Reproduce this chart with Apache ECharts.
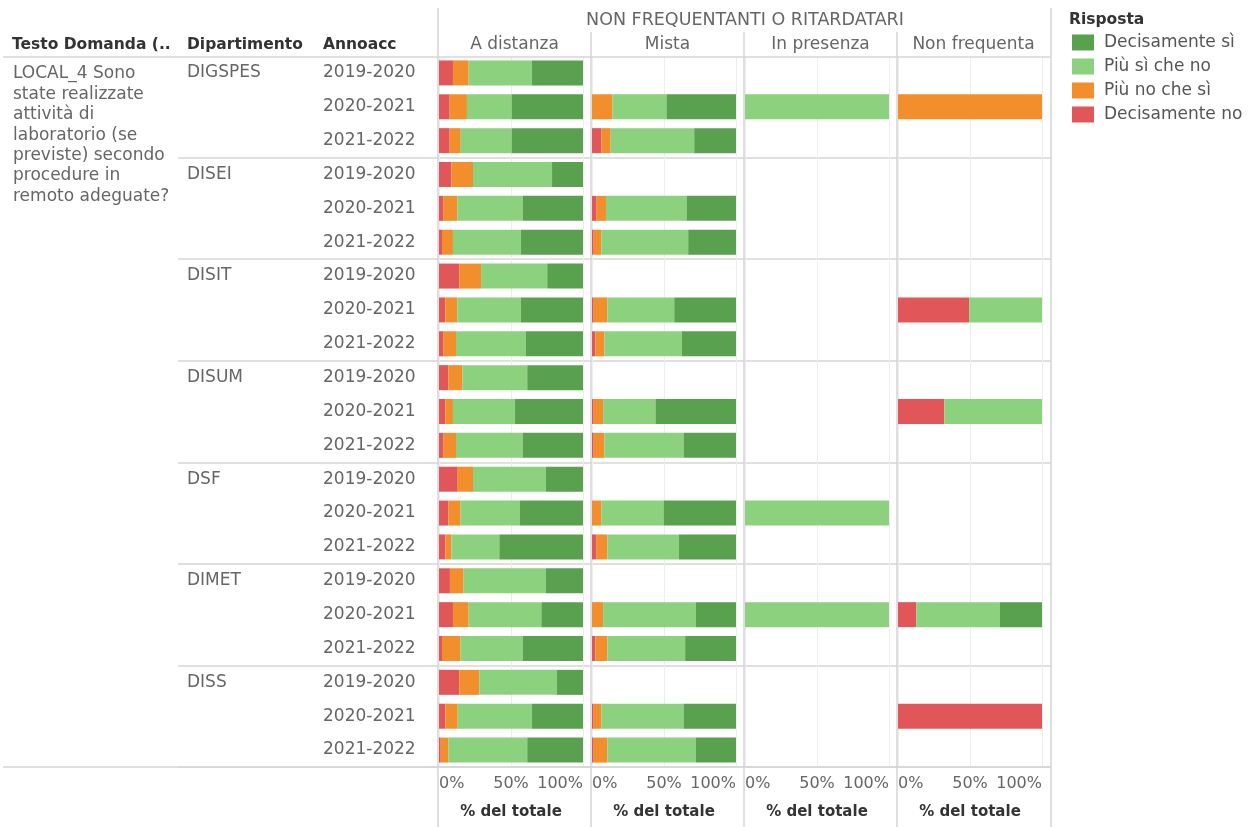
<!DOCTYPE html>
<html>
<head>
<meta charset="utf-8">
<script src="https://cdn.jsdelivr.net/npm/echarts@6/dist/echarts.min.js"></script>
<style>
  html, body { margin: 0; padding: 0; background: #fff; }
  #chart { width: 1253px; height: 827px; }
</style>
</head>
<body>
<div id="chart"></div>
<script>
// row labels
var departments = ['DIGSPES', 'DISEI', 'DISIT', 'DISUM', 'DSF', 'DIMET', 'DISS'];
var years = ['2019-2020', '2020-2021', '2021-2022'];
var panels = ['A distanza', 'Mista', 'In presenza', 'Non frequenta'];
var answers = ['Decisamente no', 'Più no che sì', 'Più sì che no', 'Decisamente sì'];
var answerColors = ['#e15759', '#f28e2b', '#8cd17d', '#59a14f'];
var question = ['LOCAL_4 Sono', 'state realizzate', 'attività di', 'laboratorio (se',
                'previste) secondo', 'procedure in', 'remoto adeguate?'];
var xTicks = [0, 50, 100];

// % del totale, one row per department/year: [no, piu no, piu si, si]
var aDistanza = [
  [9.7, 10.9, 44.0, 35.4], [7.4, 12.0, 31.1, 49.5], [7.4, 7.7, 35.4, 49.5],
  [8.6, 15.0, 54.9, 21.5], [3.2, 9.5, 45.4, 41.9], [2.1, 7.6, 47.2, 43.1],
  [14.1, 15.1, 46.0, 24.8], [4.4, 8.3, 44.2, 43.1], [3.2, 8.6, 48.4, 39.8],
  [6.5, 9.7, 45.1, 38.7], [4.4, 5.3, 43.1, 47.2], [3.2, 8.6, 46.3, 41.9],
  [13.0, 10.6, 50.5, 25.9], [6.5, 8.5, 41.0, 44.0], [4.4, 4.2, 33.3, 58.1],
  [7.6, 9.5, 57.2, 25.7], [9.7, 10.9, 50.5, 28.9], [2.1, 12.9, 43.1, 41.9],
  [14.1, 13.9, 53.7, 18.3], [4.4, 8.6, 51.6, 35.4], [1.2, 5.3, 54.8, 38.7]
];
var mista = [
  null, [0, 14.2, 37.5, 48.3], [6.5, 6.5, 58.0, 29.0],
  null, [3.2, 6.5, 56.0, 34.3], [1.2, 5.3, 60.3, 33.2],
  null, [1.2, 9.5, 46.4, 42.9], [2.3, 6.3, 53.8, 37.6],
  null, [1.2, 6.5, 36.4, 55.9], [1.2, 7.4, 55.0, 36.4],
  null, [0, 6.5, 43.2, 50.3], [3.2, 7.5, 49.6, 39.7],
  null, [0, 7.7, 64.5, 27.8], [2.3, 8.4, 54.0, 35.3],
  null, [1.2, 5.3, 57.1, 36.4], [1.2, 9.5, 61.5, 27.8]
];
var inPresenza = [
  null, [0, 0, 100, 0], null,
  null, null, null,
  null, null, null,
  null, null, null,
  null, [0, 0, 100, 0], null,
  null, [0, 0, 100, 0], null,
  null, null, null
];
var nonFrequenta = [
  null, [0, 100, 0, 0], null,
  null, null, null,
  null, [49.5, 0, 50.5, 0], null,
  null, [32.2, 0, 67.8, 0], null,
  null, null, null,
  null, [12.7, 0, 58.1, 29.2], null,
  null, [100, 0, 0, 0], null
];
var panelData = [aDistanza, mista, inPresenza, nonFrequenta];

var rows = [];
departments.forEach(function (d) {
  years.forEach(function (y) { rows.push(d + ' ' + y); });
});

var FONT = 'DejaVu Sans';
var TOP = 56, PLOT_H = 711, PANEL_X0 = 438, PANEL_W = 153, BAR_W = 144;

var myChart = echarts.init(document.getElementById('chart'));

var grids = [], xAxes = [], yAxes = [], series = [];
panels.forEach(function (p, i) {
  grids.push({ left: PANEL_X0 + 1 + PANEL_W * i, top: TOP, width: BAR_W, height: PLOT_H });
  xAxes.push({
    type: 'value', gridIndex: i, min: 0, max: 100, interval: 50,
    axisLine: { show: false }, axisTick: { show: false },
    splitLine: { show: true, lineStyle: { color: '#ededed', width: 1 } },
    axisLabel: {
      color: '#666', fontFamily: FONT, fontSize: 16, margin: 9,
      alignMinLabel: 'left', alignMaxLabel: 'right',
      formatter: function (v) { return xTicks.indexOf(v) >= 0 ? v + '%' : ''; }
    },
    name: '% del totale', nameLocation: 'middle', nameGap: 38,
    nameTextStyle: { color: '#333', fontFamily: FONT, fontSize: 15, fontWeight: 'bold' }
  });
  yAxes.push({
    type: 'category', gridIndex: i, data: rows, inverse: true,
    axisLine: { show: false }, axisTick: { show: false }, splitLine: { show: false },
    axisLabel: i === 0 ? {
      show: true, align: 'left', margin: 116, color: '#666', fontFamily: FONT, fontSize: 17,
      padding: [3, 0, 0, 0],
      formatter: function (v) { return v.split(' ')[1]; }
    } : { show: false }
  });
  answers.forEach(function (a, k) {
    series.push({
      type: 'bar', name: a, xAxisIndex: i, yAxisIndex: i, stack: 'p' + i,
      barWidth: 25, silent: true,
      itemStyle: { color: answerColors[k] },
      data: panelData[i].map(function (r) { return r ? (r[k] || '-') : '-'; })
    });
  });
});

// department labels on the first panel
yAxes.push({
  type: 'category', gridIndex: 0, data: rows, inverse: true, position: 'left',
  axisLine: { show: false }, axisTick: { show: false },
  axisLabel: {
    align: 'left', margin: 252, color: '#666', fontFamily: FONT, fontSize: 17, interval: 0,
    padding: [2, 0, 0, 0],
    formatter: function (v, idx) { return idx % 3 === 0 ? v.split(' ')[0] : ''; }
  }
});

// background grid for department separators
grids.push({ left: 178, top: TOP, width: 1051 - 178, height: PLOT_H });
xAxes.push({ type: 'value', gridIndex: 4, show: false, min: 0, max: 1, splitLine: { show: false } });
yAxes.push({
  type: 'category', gridIndex: 4, data: rows, inverse: true,
  axisLine: { show: false }, axisTick: { show: false }, axisLabel: { show: false },
  splitLine: {
    show: true, interval: function (idx) { return idx > 0 && idx % 3 === 0; },
    lineStyle: { color: '#d6d6d6', width: 1.5 }
  }
});

function vline(x, y1) {
  return { type: 'line', shape: { x1: x, y1: y1, x2: x, y2: 827 }, style: { stroke: '#d4d4d4', lineWidth: 1.5 }, z: 10 };
}
function hline(y) {
  return { type: 'line', shape: { x1: 3, y1: y, x2: 1051, y2: y }, style: { stroke: '#d6d6d6', lineWidth: 1.5 }, z: 10 };
}
function txt(x, y, s, opt) {
  opt = opt || {};
  return {
    type: 'text', x: x, y: y, z: 11,
    style: {
      text: s, fill: opt.color || '#666', font: (opt.bold ? 'bold ' : '') + (opt.size || 17) + 'px "' + FONT + '"',
      textAlign: opt.align || 'left', textVerticalAlign: 'middle'
    }
  };
}

var graphics = [
  vline(438, 8), vline(591, 32), vline(744, 32), vline(897, 32), vline(1051, 8),
  hline(57), hline(767),
  txt(745, 20, 'NON FREQUENTANTI O RITARDATARI', { align: 'center', size: 17.5 }),
  txt(12, 45, 'Testo Domanda (..', { bold: true, size: 15.5, color: '#333' }),
  txt(187, 45, 'Dipartimento', { bold: true, size: 15.5, color: '#333' }),
  txt(323, 45, 'Annoacc', { bold: true, size: 15.5, color: '#333' }),
  txt(1069, 20, 'Risposta', { bold: true, size: 15.5, color: '#333' })
];
panels.forEach(function (p, i) {
  graphics.push(txt(PANEL_X0 + PANEL_W * i + PANEL_W / 2, 45, p, { align: 'center' }));
});
question.forEach(function (q, i) {
  graphics.push(txt(13, 74 + i * 20.4, q));
});

myChart.setOption({
  animation: false,
  grid: grids,
  xAxis: xAxes,
  yAxis: yAxes,
  legend: {
    data: answers.slice().reverse(),
    orient: 'vertical', left: 1072, top: 34, padding: 0,
    icon: 'rect', itemWidth: 22, itemHeight: 16, itemGap: 7,
    selectedMode: false,
    textStyle: { color: '#555', fontFamily: FONT, fontSize: 17, lineHeight: 16, padding: [0, 0, 0, 5] }
  },
  series: series,
  graphic: graphics
});
</script>
</body>
</html>
